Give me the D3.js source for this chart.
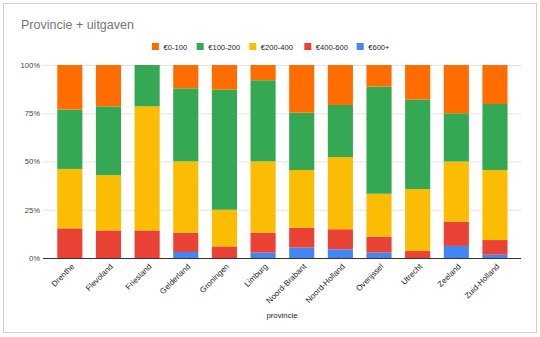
<!DOCTYPE html>
<html>
<head>
<meta charset="utf-8">
<script src="https://cdn.jsdelivr.net/npm/d3@7"></script>
<style>
html,body{margin:0;padding:0;background:#fff;}
svg{display:block;font-family:"Liberation Sans",Arial,sans-serif;}
</style>
</head>
<body>
<svg id="chart" width="540" height="337"></svg>
<script>
const provinces = ["Drenthe","Flevoland","Friesland","Gelderland","Groningen","Limburg","Noord-Brabant","Noord-Holland","Overijssel","Utrecht","Zeeland","Zuid-Holland"];
const seriesNames = ["€0-100","€100-200","€200-400","€400-600","€600+"];
const v0_100   = [23.1,21.4,0,12.1,12.8,7.9,24.7,20.7,11.2,17.9,25,20.2];
const v100_200 = [30.8,35.7,21.4,37.8,62.2,42,29.7,27,55.5,46.4,25,34.2];
const v200_400 = [30.8,28.6,64.3,37,19,37,29.9,37.4,22.2,32.1,31.25,36.3];
const v400_600 = [15.4,14.3,14.3,10,6,10.3,10.3,10.4,8.3,3.6,12.5,7.6];
const v600plus = [0,0,0,3.1,0,2.8,5.4,4.5,2.8,0,6.25,1.7];
const yTicks = [0,0.25,0.5,0.75,1];
const colors = ["#FF6D01","#34A853","#FBBC04","#EA4335","#4285F4"];

const seriesValues = [v0_100,v100_200,v200_400,v400_600,v600plus];
const rows = provinces.map((p,i)=>{
  const r = {provincie:p};
  seriesNames.forEach((s,j)=> r[s]=seriesValues[j][i]);
  return r;
});
const stackKeys = seriesNames.slice().reverse();
const stacked = d3.stack().keys(stackKeys).offset(d3.stackOffsetExpand)(rows);
const color = d3.scaleOrdinal().domain(seriesNames).range(colors);

const svg = d3.select("#chart");
svg.append("rect").attr("x",3.5).attr("y",3.5).attr("width",533).attr("height",329)
  .attr("fill","#fff").attr("stroke","#d0d0d0");

const x = d3.scaleBand().domain(provinces).range([50.5,514.3]).paddingInner(0.35).paddingOuter(0.175);
const y = d3.scaleLinear().domain([0,1]).range([258,65]);

svg.append("text").attr("x",21).attr("y",29).attr("font-size",12.5).attr("fill","#757575")
  .text("Provincie + uitgaven");

const legendX = [152,196.7,249.3,304.3,356.7];
const lg = svg.append("g");
seriesNames.forEach((s,i)=>{
  lg.append("rect").attr("x",legendX[i]).attr("y",43).attr("width",7).attr("height",7).attr("fill",color(s));
  lg.append("text").attr("x",legendX[i]+11.5).attr("y",49.5).attr("font-size",7.6).attr("fill","#222").text(s);
});

const yAxis = d3.axisLeft(y).tickValues(yTicks).tickFormat(d3.format(".0%")).tickSize(0).tickPadding(3);
const gy = svg.append("g").attr("transform","translate(43,0)").call(yAxis);
gy.select(".domain").remove();
gy.selectAll("text").attr("font-size",7.6).attr("fill","#444").attr("font-family","Liberation Sans, Arial, sans-serif");
gy.selectAll(".tick").append("line").attr("x1",0).attr("x2",478).attr("stroke","#e3e3e3").attr("stroke-width",1);

svg.append("g").selectAll("g").data(stacked).join("g")
  .attr("fill",d=>color(d.key))
  .selectAll("rect").data(d=>d).join("rect")
  .attr("x",d=>x(d.data.provincie))
  .attr("width",x.bandwidth())
  .attr("y",d=>y(d[1]))
  .attr("height",d=>Math.max(0,y(d[0])-y(d[1])));

svg.append("line").attr("x1",43).attr("x2",521).attr("y1",y(0)+0.5).attr("y2",y(0)+0.5)
  .attr("stroke","#333").attr("stroke-width",1);

const xAxis = d3.axisBottom(x).tickSize(0).tickPadding(0);
const gx = svg.append("g").attr("transform","translate(0,"+y(0)+")").call(xAxis);
gx.select(".domain").remove();
gx.selectAll("text")
  .attr("font-size",8).attr("fill","#222").attr("font-family","Liberation Sans, Arial, sans-serif")
  .attr("text-anchor","end")
  .attr("dy",null).attr("y",0)
  .attr("transform","translate(5,9) rotate(-45)");

svg.append("text").attr("x",282).attr("y",318).attr("text-anchor","middle")
  .attr("font-size",7.8).attr("fill","#222").text("provincie");
</script>
</body>
</html>
